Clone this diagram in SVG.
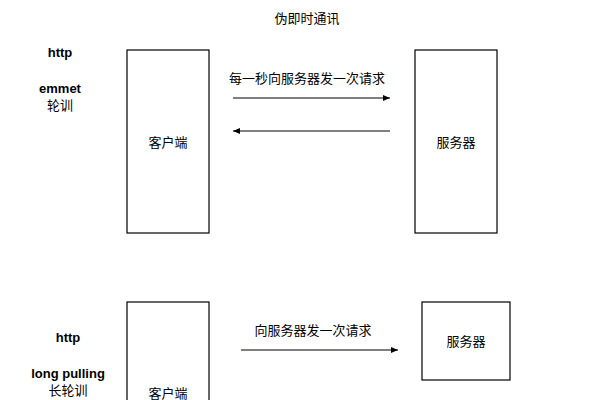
<svg xmlns="http://www.w3.org/2000/svg" width="615" height="400" viewBox="0 0 615 400">
<style>
text{font-family:"Liberation Sans","Noto Sans CJK SC",sans-serif;font-size:13px;fill:#000;text-anchor:middle}
.b{font-weight:bold}
rect{fill:#fff;stroke:#000;stroke-width:1.2}
line{stroke:#000;stroke-width:1.2}
</style>
<defs><marker id="a" markerWidth="8" markerHeight="8" refX="7" refY="4" orient="auto" markerUnits="userSpaceOnUse"><path d="M0,1 L7,4 L0,7 z" fill="#000"/></marker></defs>
<rect width="615" height="400" style="stroke:none"/>
<text x="307" y="23">伪即时通讯</text>
<g id="labels1"><text x="60" y="57" class="b">http</text><text x="60" y="93" class="b">emmet</text><text x="60" y="110">轮训</text></g>
<g id="client1"><rect x="127" y="50" width="82" height="183"/><text x="168" y="147">客户端</text></g>
<g id="server1"><rect x="415" y="50" width="82" height="183"/><text x="456" y="147">服务器</text></g>
<g id="labels2"><text x="68" y="342" class="b">http</text><text x="68" y="378" class="b">long pulling</text><text x="68" y="395">长轮训</text></g>
<g id="client2"><rect x="127" y="302" width="82" height="110"/><text x="168" y="398">客户端</text></g>
<g id="server2"><rect x="422" y="302" width="88" height="78"/><text x="466" y="346">服务器</text></g>
<g id="connectors">
<line x1="233" y1="98" x2="390" y2="98" marker-end="url(#a)"/>
<text x="307" y="83">每一秒向服务器发一次请求</text>
<line x1="390" y1="131" x2="233" y2="131" marker-end="url(#a)"/>
<line x1="241" y1="350" x2="398" y2="350" marker-end="url(#a)"/>
<text x="313" y="335">向服务器发一次请求</text>
</g>
</svg>
